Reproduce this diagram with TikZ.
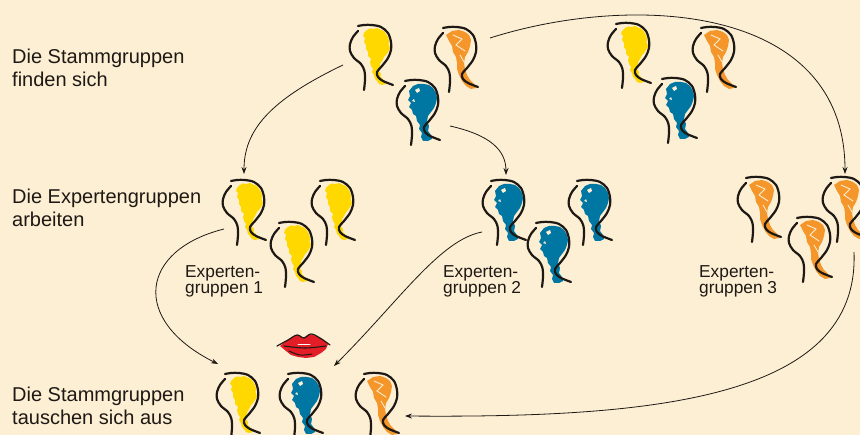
\documentclass[tikz,border=0pt]{standalone}
\usepackage{fontspec}
\setmainfont{Liberation Sans}
\usetikzlibrary{arrows.meta}

\definecolor{bg}{RGB}{253,239,212}
\definecolor{hyellow}{RGB}{255,216,0}
\definecolor{horange}{RGB}{244,150,42}
\definecolor{hblue}{RGB}{0,119,163}
\definecolor{lipred}{RGB}{228,30,38}
\definecolor{ink}{RGB}{30,25,20}

\tikzset{
  outline/.style={line width=2.2pt, line cap=round, line join=round, ink},
  flow/.style={line width=0.8pt, ink, -{Stealth[length=7pt,width=5pt]}},
  lbl/.style={anchor=base west, align=left, inner sep=0pt,
              font=\fontsize{20}{23}\selectfont, text=ink},
  small/.style={anchor=base west, align=left, inner sep=0pt,
                font=\fontsize{17.3}{16}\selectfont, text=ink},
  % black brush lines of a profile head
  pics/headlines/.style={code={
    \draw[outline] plot[smooth, tension=0.55] coordinates
      {(9,2) (15,1) (23,1) (32,3) (39,9) (42,18) (42,26) (39,34)
       (33,42) (28,48) (29,53) (34,57) (44,61)};
    \draw[outline] plot[smooth, tension=0.55] coordinates
      {(9,7) (4,13) (1,20) (1,27) (5,34) (12,40) (15.5,47)
       (16,56) (15,66)};
  }},
  pics/yhead/.style={code={
    \fill[hyellow, line join=round] (15,9) -- (18,6) -- (21,4.5) -- (25,5) -- (28,4)
      -- (32,6) -- (35,7) -- (37,10) -- (39,13) -- (40,17) -- (39.5,20) -- (41,24)
      -- (39,28) -- (37,31) -- (35,33) -- (33,37) -- (31,40) -- (31,44) -- (29.5,47)
      -- (32,50) -- (31.5,53) -- (34,55) -- (35,58) -- (37,60) -- (33,61) -- (30,60)
      -- (28,57) -- (26,55) -- (25,51) -- (23,48) -- (24,45) -- (22,42) -- (21,38)
      -- (22,35) -- (19,32) -- (19,28) -- (17,25) -- (17,21) -- (15,18) -- (16,14)
      -- (14,12) -- cycle;
    \pic {headlines};
  }},
  pics/bhead/.style={code={
    \fill[hblue] (13,12) -- (17,7) -- (22,5) -- (28,5) -- (33,6) -- (37,9) -- (40,14)
      -- (41,19) -- (40,24) -- (38,29) -- (35,33) -- (32,37) -- (31,42) -- (33,47)
      -- (32,52) -- (35,56) -- (36,60) -- (32,62) -- (27,62) -- (25,58) -- (26,54)
      -- (23,50) -- (24,46) -- (21,42) -- (20,37) -- (17,35) -- (16,31) -- (13,28)
      -- (15,24) -- (12,21) -- (14,17) -- cycle;
    % light gaps in the blue paint
    \fill[bg] (19,11) -- (23,9) -- (24,12) -- (21,14) -- cycle;
    \fill[bg] (16,22) -- (18,20) -- (19,23) -- cycle;
    \pic {headlines};
  }},
  pics/ohead/.style={code={
    \fill[horange] (12,9) -- (18,5) -- (25,4) -- (31,6) -- (35,9) -- (37,14)
      -- (36,20) -- (34,26) -- (31,31) -- (30,37) -- (31,43) -- (33,49) -- (36,54)
      -- (40,58) -- (42,62) -- (37,63) -- (32,60) -- (28,55) -- (25,49) -- (23,43)
      -- (23,37) -- (22,31) -- (19,26) -- (18,20) -- (15,15) -- cycle;
    % light brush streaks in the orange hair
    \draw[bg, line width=0.9pt, line cap=round]
      (19,9) -- (28,13) -- (22,19) -- (31,25);
    \draw[bg, line width=0.8pt, line cap=round] (26,29) -- (30,36);
    \pic {headlines};
  }}
}

\begin{document}
\begin{tikzpicture}[x=1pt, y=-1pt]
  \useasboundingbox (0,0) rectangle (860,435);
  \clip (0,0) rectangle (860,435);
  \fill[bg] (0,0) rectangle (860,435);

  % row labels (anchored at the baseline of their last line)
  \node[lbl] (stamm1) at (12,87) {Die Stammgruppen\\finden sich};
  \node[lbl] (experten) at (12,227) {Die Expertengruppen\\arbeiten};
  \node[lbl] (stamm2) at (12,425) {Die Stammgruppen\\tauschen sich aus};

  % expert group captions
  \node[small] (eg1) at (185,294) {Experten-\\gruppen 1};
  \node[small] (eg2) at (443,294) {Experten-\\gruppen 2};
  \node[small] (eg3) at (699,294) {Experten-\\gruppen 3};

  % home groups
  \pic (hy1) at (349,24) {yhead};
  \pic (ho1) at (434,26) {ohead};
  \pic (hb1) at (396,79) {bhead};
  \pic (hy2) at (607,22) {yhead};
  \pic (ho2) at (692,26) {ohead};
  \pic (hb2) at (653,77) {bhead};

  % expert groups
  \pic (ey1) at (222,179) {yhead};
  \pic (ey2) at (311,179) {yhead};
  \pic (ey3) at (270,221) {yhead};
  \pic (eb1) at (482,179) {bhead};
  \pic (eb2) at (568,179) {bhead};
  \pic (eb3) at (527,221) {bhead};
  \pic (eo1) at (737,176) {ohead};
  \pic (eo2) at (822,176) {ohead};
  \pic (eo3) at (788,216) {ohead};

  % home group again
  \pic (fy) at (216,372) {yhead};
  \pic (fb) at (279,372) {bhead};
  \pic (fo) at (355,372) {ohead};

  % lips
  \fill[lipred] (280,346) -- (286,341) -- (291,338) -- (297,335) -- (303,338)
    -- (309,334) -- (316,336) -- (322,339) -- (328,344) -- (326,349) -- (321,353)
    -- (314,357) -- (306,358) -- (298,357) -- (291,355) -- (286,351) -- cycle;
  \draw[ink, line width=1.2pt, line cap=round, line join=round]
    plot[smooth, tension=0.6] coordinates
    {(277,346) (288,340) (297,335) (304,338) (311,334) (320,338) (330,345)};
  \draw[ink, line width=1.1pt, line cap=round]
    plot[smooth, tension=0.6] coordinates {(284,346) (305,348) (326,346)};
  \draw[ink, line width=1pt, line cap=round]
    plot[smooth, tension=0.6] coordinates {(289,351) (300,355) (312,354)};
  \draw[white, line width=1pt, line cap=round] (298,345) -- (310,345);

  % connector end points
  \coordinate (a1s) at (343,65);   \coordinate (a1e) at (244,174);
  \coordinate (a2s) at (450,126);  \coordinate (a2e) at (506,175);
  \coordinate (a3s) at (490,38);   \coordinate (a3e) at (845,174);
  \coordinate (a4s) at (224,229);  \coordinate (a4e) at (218,364);
  \coordinate (a5s) at (482,232);  \coordinate (a5e) at (334,366);
  \coordinate (a6s) at (854,252);  \coordinate (a6e) at (405,416);

  \draw[flow] (a1s) .. controls (270,100) and (244,130) .. (a1e);
  \draw[flow] (a2s) .. controls (490,135) and (506,150) .. (a2e);
  \draw[flow] (a3s) .. controls (635,-8) and (845,5) .. (a3e);
  \draw[flow] (a4s) .. controls (140,250) and (130,320) .. (a4e);
  \draw[flow] (a5s) .. controls (440,240) and (400,300) .. (a5e);
  \draw[flow] (a6s) .. controls (860,400) and (650,418) .. (a6e);
\end{tikzpicture}
\end{document}
